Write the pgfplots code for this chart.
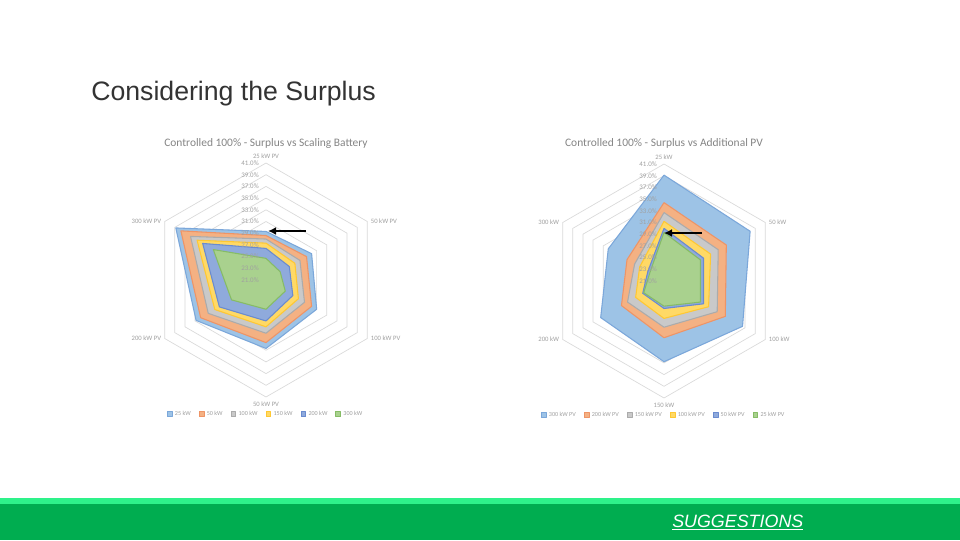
\documentclass[border=0pt]{standalone}
\usepackage{fontspec}
\setmainfont{Liberation Sans}
\newfontfamily\calibri{Carlito}
\usepackage{pgfplots}
\usepackage{pgfplotstable}
\pgfplotsset{compat=1.18}
\usetikzlibrary{arrows.meta}

\definecolor{xblue}{HTML}{9DC3E6}
\definecolor{xblueL}{HTML}{7BA7DA}
\definecolor{xorange}{HTML}{F4B183}
\definecolor{xorangeL}{HTML}{EE9466}
\definecolor{xgray}{HTML}{C9C9C9}
\definecolor{xgrayL}{HTML}{ABABAB}
\definecolor{xyellow}{HTML}{FFD966}
\definecolor{xyellowL}{HTML}{FFC832}
\definecolor{xdblue}{HTML}{8FAADC}
\definecolor{xdblueL}{HTML}{6A8BCF}
\definecolor{xgreen}{HTML}{A9D18E}
\definecolor{xgreenL}{HTML}{86BC66}
\definecolor{gridc}{HTML}{DADADA}
\definecolor{labc}{HTML}{A0A0A0}
\definecolor{ttlc}{HTML}{858585}
\definecolor{barlight}{HTML}{2EF28A}
\definecolor{bardark}{HTML}{00AD50}

% surplus (%) per PV size, one column per battery size
\pgfplotstableread{
ang  b25  b50  b100 b150 b200 b300
90   29.3 28.6 28.0 27.3 26.4 24.7
30   30.0 29.0 27.7 26.7 25.6 23.8
-30  31.0 30.0 28.6 27.4 26.3 24.8
-90  32.7 31.7 30.1 29.0 28.0 26.0
-150 34.8 33.9 32.4 31.1 30.2 27.8
150  38.8 37.8 35.9 34.6 33.5 31.4
90   29.3 28.6 28.0 27.3 26.4 24.7
}\battdata

% surplus (%) per battery size, one column per additional PV
\pgfplotstableread{
ang  p300 p200 p150 p100 p50  p25
90   39.1 34.4 32.7 31.2 30.0 29.3
30   38.0 33.3 31.7 30.2 28.8 28.2
-30  36.5 33.1 31.5 29.8 28.8 28.2
-90  34.8 30.7 28.9 27.4 25.7 25.3
-150 33.5 29.4 28.2 26.6 25.2 25.0
150  32.0 28.3 26.8 25.8 24.2 23.8
90   39.1 34.4 32.7 31.2 30.0 29.3
}\pvdata

\pgfplotsset{
  radar/.style={
    width=193.05pt, height=193.05pt, scale only axis,
    xmin=-22, xmax=22, ymin=-22, ymax=22,
    hide axis, clip=false, anchor=center,
    legend columns=6,
    legend style={draw=none, fill=none, text=labc,
      font=\calibri\fontsize{4.6}{5}\selectfont,
      at={(0.5,-0.021)}, anchor=center, inner sep=0pt,
      /tikz/every even column/.append style={column sep=4pt}},
  },
  legend image code/.code={\draw[#1, line width=0.4pt] (0pt,-1.8pt) rectangle (3.6pt,1.8pt);},
  ring/.style={data cs=polar, draw=gridc, line width=0.5pt, forget plot, mark=none},
  ser/.style 2 args={data cs=polar, fill=#1, draw=#2, line width=0.8pt, line join=round, mark=none},
}
\tikzset{
  tl/.style={font=\calibri\fontsize{5.2}{6}\selectfont, text=labc, inner sep=0pt, anchor=east},
  cl/.style={font=\calibri\fontsize{5}{6}\selectfont, text=labc, inner sep=0pt},
  ct/.style={font=\calibri\fontsize{8.6}{10}\selectfont, text=ttlc, inner sep=0pt},
}
\newcommand\rings{%
  \pgfplotsinvokeforeach{2,4,...,20}{%
    \addplot[ring] coordinates {(90,##1) (30,##1) (-30,##1) (-90,##1) (-150,##1) (150,##1) (90,##1)};}}
\newcommand\ticklabels{%
  \node[tl] at (axis cs:-1.2,0) {21.0\%};
  \node[tl] at (axis cs:-1.2,2) {23.0\%};
  \node[tl] at (axis cs:-1.2,4) {25.0\%};
  \node[tl] at (axis cs:-1.2,6) {27.0\%};
  \node[tl] at (axis cs:-1.2,8) {29.0\%};
  \node[tl] at (axis cs:-1.2,10) {31.0\%};
  \node[tl] at (axis cs:-1.2,12) {33.0\%};
  \node[tl] at (axis cs:-1.2,14) {35.0\%};
  \node[tl] at (axis cs:-1.2,16) {37.0\%};
  \node[tl] at (axis cs:-1.2,18) {39.0\%};
  \node[tl] at (axis cs:-1.2,20) {41.0\%};
}

\begin{document}
\begin{tikzpicture}[x=0.75pt, y=0.75pt]
\path[fill=white] (0,0) rectangle (960,540);

\node[anchor=base west, inner sep=0pt, text=black!80, font=\fontsize{20}{24}\selectfont] at (91,439) {Considering the Surplus};

% left radar
\begin{axis}[radar, at={(199.5pt,195pt)}]
  \rings
  \addplot[ser={xblue}{xblueL}] table[x=ang, y expr=\thisrow{b25}-21] {\battdata};
  \addplot[ser={xorange}{xorangeL}] table[x=ang, y expr=\thisrow{b50}-21] {\battdata};
  \addplot[ser={xgray}{xgrayL}] table[x=ang, y expr=\thisrow{b100}-21] {\battdata};
  \addplot[ser={xyellow}{xyellowL}] table[x=ang, y expr=\thisrow{b150}-21] {\battdata};
  \addplot[ser={xdblue}{xdblueL}] table[x=ang, y expr=\thisrow{b200}-21] {\battdata};
  \addplot[ser={xgreen}{xgreenL}] table[x=ang, y expr=\thisrow{b300}-21] {\battdata};
  \legend{25 kW, 50 kW, 100 kW, 150 kW, 200 kW, 300 kW}
  \ticklabels
  \node[cl, anchor=south] at (axis cs:0,20.7) {25 kW PV};
  \node[cl, anchor=west] at (axis cs:17.9,10) {50 kW PV};
  \node[cl, anchor=west] at (axis cs:17.9,-10) {100 kW PV};
  \node[cl, anchor=north] at (axis cs:0,-20.8) {50 kW PV};
  \node[cl, anchor=east] at (axis cs:-17.9,-10) {200 kW PV};
  \node[cl, anchor=east] at (axis cs:-17.9,10) {300 kW PV};
  \node[ct] at (axis cs:0,23.3) {Controlled 100\% - Surplus vs Scaling Battery};
\end{axis}

% right radar
\begin{axis}[radar, at={(498pt,194.25pt)}]
  \rings
  \addplot[ser={xblue}{xblueL}] table[x=ang, y expr=\thisrow{p300}-21] {\pvdata};
  \addplot[ser={xorange}{xorangeL}] table[x=ang, y expr=\thisrow{p200}-21] {\pvdata};
  \addplot[ser={xgray}{xgrayL}] table[x=ang, y expr=\thisrow{p150}-21] {\pvdata};
  \addplot[ser={xyellow}{xyellowL}] table[x=ang, y expr=\thisrow{p100}-21] {\pvdata};
  \addplot[ser={xdblue}{xdblueL}] table[x=ang, y expr=\thisrow{p50}-21] {\pvdata};
  \addplot[ser={xgreen}{xgreenL}] table[x=ang, y expr=\thisrow{p25}-21] {\pvdata};
  \legend{300 kW PV, 200 kW PV, 150 kW PV, 100 kW PV, 50 kW PV, 25 kW PV}
  \ticklabels
  \node[cl, anchor=south] at (axis cs:0,20.7) {25 kW};
  \node[cl, anchor=west] at (axis cs:17.9,10) {50 kW};
  \node[cl, anchor=west] at (axis cs:17.9,-10) {100 kW};
  \node[cl, anchor=north] at (axis cs:0,-20.8) {150 kW};
  \node[cl, anchor=east] at (axis cs:-17.9,-10) {200 kW};
  \node[cl, anchor=east] at (axis cs:-17.9,10) {300 kW};
  \node[ct] at (axis cs:0,23.5) {Controlled 100\% - Surplus vs Additional PV};
\end{axis}

% arrows
\draw[line width=1.6pt, -{Latex[length=6pt, width=6pt]}] (306,309) -- (268,309);
\draw[line width=1.6pt, -{Latex[length=6pt, width=6pt]}] (702,307) -- (664,307);

% footer bar
\fill[bardark] (0,0) rectangle (960,36);
\fill[barlight] (0,36) rectangle (960,42);
\node[anchor=base west, inner sep=0pt, text=white, font=\fontsize{13.4}{16}\selectfont\itshape] at (672,13) {\underline{SUGGESTIONS}};

\pgfresetboundingbox
\path (0,0) rectangle (960,540);
\end{tikzpicture}
\end{document}
